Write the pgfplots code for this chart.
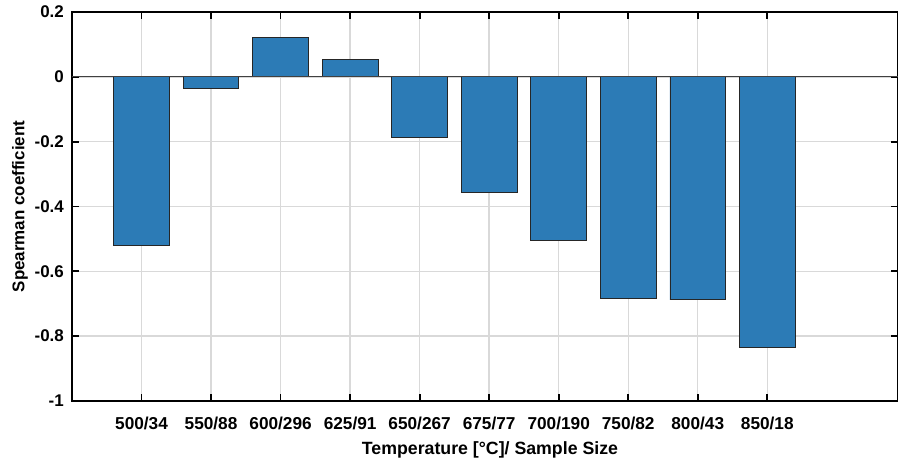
\documentclass[border=0pt]{standalone}
\usepackage{pgfplots}
\pgfplotsset{compat=1.18}
\usepackage{fontspec}
\setmainfont{Liberation Sans}
\definecolor{barblue}{RGB}{44,123,182}
\begin{document}
\begin{tikzpicture}
\begin{axis}[
  scale only axis,
  width=826bp, height=389bp,
  xmin=0, xmax=11.88,
  ymin=-1, ymax=0.2,
  xtick={1,2,3,4,5,6,7,8,9,10},
  xticklabels={500/34,550/88,600/296,625/91,650/267,675/77,700/190,750/82,800/43,850/18},
  ytick={-1,-0.8,-0.6,-0.4,-0.2,0,0.2},
  yticklabels={-1,-0.8,-0.6,-0.4,-0.2,0,0.2},
  grid=major,
  major grid style={line width=1.4bp, color=black!15},
  axis line style={line width=2bp, black},
  major tick length=7bp,
  every tick/.style={line width=1.8bp, black},
  tick align=inside,
  /pgf/number format/assume math mode=true,
  xticklabel style={font=\bfseries\fontsize{17.3}{19}\selectfont, anchor=base, yshift=-28bp, inner sep=0pt},
  yticklabel style={font=\bfseries\fontsize{17}{19}\selectfont, anchor=east, xshift=-8bp, inner sep=0pt},
  xlabel={Temperature [°C]/ Sample Size},
  ylabel={Spearman coefficient},
  xlabel style={font=\bfseries\fontsize{17.8}{20}\selectfont, at={([yshift=-53bp]axis description cs:0.5,0)}, anchor=base, xshift=5bp},
  ylabel style={font=\bfseries\fontsize{17}{19}\selectfont, at={([xshift=-52bp]axis description cs:0,0.5)}, anchor=center},
]
\addplot[ybar, bar width=0.8, bar shift=0pt, fill=barblue, draw=black!85, line width=0.8bp] coordinates {
 (1,-0.520) (2,-0.036) (3,0.121) (4,0.054) (5,-0.188)
 (6,-0.357) (7,-0.505) (8,-0.682) (9,-0.688) (10,-0.836)
};
\addplot[black!75, line width=1bp, forget plot] coordinates {(0,0) (11.88,0)};
\coordinate (ll) at (rel axis cs:0,0);
\coordinate (ur) at (rel axis cs:1,1);
\end{axis}
\pgfresetboundingbox
\path[use as bounding box] ([shift={(-72bp,-60bp)}]ll) rectangle ([shift={(0bp,12bp)}]ur);
\end{tikzpicture}
\end{document}
